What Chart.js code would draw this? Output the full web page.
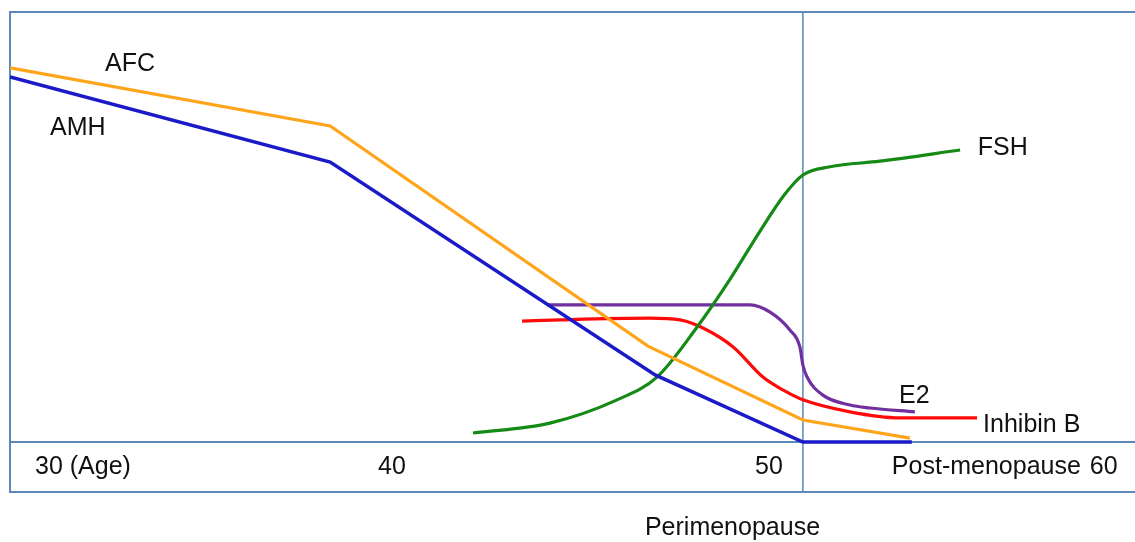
<!DOCTYPE html>
<html>
<head>
<meta charset="utf-8">
<script src="https://cdn.jsdelivr.net/npm/chart.js@4"></script>
<style>
  html, body { margin: 0; padding: 0; background: #fff; }
  #wrap { width: 1135px; height: 542px; }
</style>
</head>
<body>
<div id="wrap"><canvas id="hormone-chart"></canvas></div>
<script>
// ages (x) and relative levels (y)
const afcAge = [29.87, 38.36, 46.79, 50.9, 53.74];
const afcLevel = [87.0, 73.5, 22.3, 5.1, 0.9];

const amhAge = [29.87, 38.36, 46.98, 50.9, 53.79];
const amhLevel = [84.9, 65.1, 15.6, 0, 0];

const fshAge = [42.15, 44.19, 45.97, 47.03, 48.09, 48.97, 49.76, 50.42, 50.9, 51.62, 52.94, 55.07];
const fshLevel = [2.1, 4.4, 9.8, 15.1, 26.7, 37.9, 49.0, 57.6, 62.1, 64.0, 65.3, 67.9];

const e2Age = [44.11, 49.5, 50.03, 50.56, 50.82, 50.9, 51.01, 51.43, 52.15, 52.68, 53.87];
const e2Level = [31.9, 31.9, 30.2, 26.0, 22.1, 17.9, 15.1, 10.9, 8.6, 7.9, 7.0];

const inhAge = [43.45, 44.46, 46.84, 47.64, 48.25, 49.05, 49.84, 50.37, 50.9, 52.15, 53.47, 55.52];
const inhLevel = [28.1, 28.4, 28.8, 28.4, 26.5, 22.1, 15.1, 12.1, 9.8, 7.0, 5.6, 5.6];

const menopauseAge = 50.9;

const toPoints = (xs, ys) => xs.map((x, i) => ({ x: x, y: ys[i] }));

const textLabels = [
  { text: 'AFC', x: 32.39, y: 87.8 },
  { text: 'AMH', x: 30.93, y: 73.0 },
  { text: 'FSH', x: 55.54, y: 68.3 },
  { text: 'E2', x: 53.45, y: 10.6 },
  { text: 'Inhibin B', x: 55.68, y: 3.9 },
  { text: '30 (Age)', x: 30.53, y: -5.9 },
  { text: '40', x: 39.63, y: -5.9 },
  { text: '50', x: 49.63, y: -5.9 },
  { text: 'Post-menopause', x: 53.26, y: -5.9 },
  { text: '60', x: 58.51, y: -5.9 },
  { text: 'Perimenopause', x: 46.71, y: -20.0 },
];

const frame = {
  id: 'frame',
  beforeDatasetsDraw(chart) {
    const { ctx, chartArea: a, scales } = chart;
    const xm = scales.x.getPixelForValue(menopauseAge);
    const y0 = scales.y.getPixelForValue(0);
    ctx.save();
    ctx.strokeStyle = '#5b87bb';
    ctx.lineWidth = 2;
    ctx.strokeRect(a.left, a.top, a.right - a.left + 4, a.bottom - a.top);
    ctx.beginPath();
    ctx.moveTo(a.left, y0);
    ctx.lineTo(a.right, y0);
    ctx.stroke();
    ctx.lineWidth = 1.5;
    ctx.beginPath();
    ctx.moveTo(xm, a.top);
    ctx.lineTo(xm, a.bottom);
    ctx.stroke();
    ctx.restore();
  },
  afterDatasetsDraw(chart) {
    const { ctx, scales } = chart;
    ctx.save();
    ctx.fillStyle = '#111';
    ctx.font = '25px "Liberation Sans", Arial, sans-serif';
    ctx.textAlign = 'left';
    ctx.textBaseline = 'middle';
    textLabels.forEach((l) => {
      ctx.fillText(l.text, scales.x.getPixelForValue(l.x), scales.y.getPixelForValue(l.y));
    });
    ctx.restore();
  },
};

const line = (label, data, color, curved, width) => ({
  label: label,
  data: data,
  borderColor: color,
  borderWidth: width || 3.2,
  pointRadius: 0,
  fill: false,
  tension: curved ? 0.4 : 0,
  cubicInterpolationMode: curved ? 'monotone' : 'default',
});

new Chart(document.getElementById('hormone-chart'), {
  type: 'line',
  data: {
    datasets: [
      line('AFC', toPoints(afcAge, afcLevel), '#ffa51c', false),
      line('AMH', toPoints(amhAge, amhLevel), '#1a1ac8', false, 3.5),
      line('FSH', toPoints(fshAge, fshLevel), '#158a15', true),
      line('E2', toPoints(e2Age, e2Level), '#7030a0', true),
      line('Inhibin B', toPoints(inhAge, inhLevel), '#ff0a0a', true),
    ],
  },
  options: {
    responsive: true,
    maintainAspectRatio: false,
    animation: false,
    layout: { padding: { left: 10, right: 0, top: 12, bottom: 50 } },
    scales: {
      x: { type: 'linear', min: 29.867, max: 59.71, display: false },
      y: { min: -11.63, max: 100, display: false },
    },
    plugins: {
      legend: { display: false },
      tooltip: { enabled: false },
    },
  },
  plugins: [frame],
});
</script>
</body>
</html>
